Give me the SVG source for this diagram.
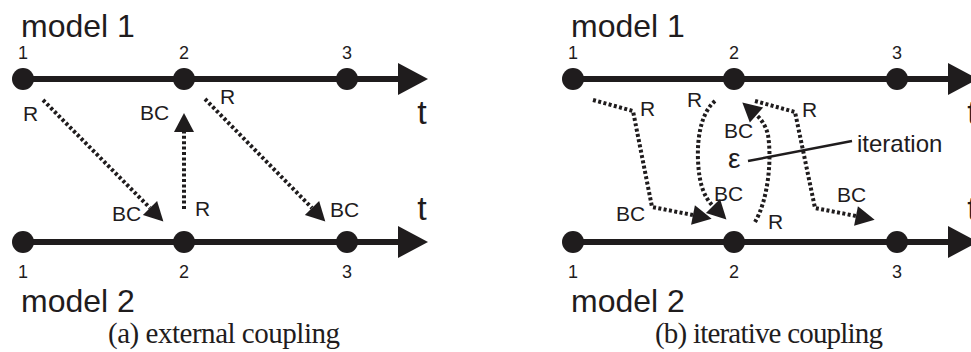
<svg xmlns="http://www.w3.org/2000/svg" width="971" height="352" viewBox="0 0 971 352">
<style>
.axis{stroke:#1f1c1d;stroke-width:6;fill:none}
.pt{fill:#1f1c1d}
.dot{stroke:#1f1c1d;stroke-width:4;stroke-dasharray:3 2.4;fill:none}
.lbl{font-family:"Liberation Sans",Arial,sans-serif;fill:#1f1c1d}
.m{font-size:32px}
.n{font-size:18px}
.s{font-size:21px}
.t{font-size:34px}
.cap{font-family:"Liberation Serif","Times New Roman",serif;font-size:29px;fill:#1f1c1d}
</style>
<defs>
<marker id="ah" markerUnits="userSpaceOnUse" markerWidth="20" markerHeight="22" refX="0" refY="10" orient="auto" overflow="visible">
<path d="M0,0 L19,10 L0,20 z" fill="#1f1c1d"/>
</marker>
<marker id="big" markerUnits="userSpaceOnUse" markerWidth="32" markerHeight="34" refX="0" refY="16" orient="auto" overflow="visible">
<path d="M0,0 L30,16 L0,32 z" fill="#1f1c1d"/>
</marker>
</defs>

<!-- panel (a) -->
<g id="a-model1">
<line class="axis" x1="23" y1="79" x2="398" y2="79" marker-end="url(#big)"/>
<text class="lbl m" x="21" y="37">model 1</text>
<text class="lbl t" x="422" y="124" text-anchor="middle">t</text>
</g>
<g id="a-m1-p1"><circle class="pt" cx="23" cy="79" r="11"/><text class="lbl n" x="23" y="59" text-anchor="middle">1</text></g>
<g id="a-m1-p2"><circle class="pt" cx="184" cy="79" r="11"/><text class="lbl n" x="184" y="59" text-anchor="middle">2</text></g>
<g id="a-m1-p3"><circle class="pt" cx="347" cy="79" r="11"/><text class="lbl n" x="347" y="59" text-anchor="middle">3</text></g>

<g id="a-model2">
<line class="axis" x1="23" y1="242" x2="398" y2="242" marker-end="url(#big)"/>
<text class="lbl m" x="21" y="312">model 2</text>
<text class="lbl t" x="422" y="220" text-anchor="middle">t</text>
</g>
<g id="a-m2-p1"><circle class="pt" cx="23" cy="242" r="11"/><text class="lbl n" x="23" y="278" text-anchor="middle">1</text></g>
<g id="a-m2-p2"><circle class="pt" cx="184" cy="242" r="11"/><text class="lbl n" x="184" y="278" text-anchor="middle">2</text></g>
<g id="a-m2-p3"><circle class="pt" cx="347" cy="242" r="11"/><text class="lbl n" x="347" y="278" text-anchor="middle">3</text></g>

<g id="a-connectors">
<line class="dot" x1="43" y1="100" x2="150" y2="208" marker-end="url(#ah)"/>
<line class="dot" x1="184" y1="209" x2="184" y2="132" marker-end="url(#ah)"/>
<line class="dot" x1="205" y1="99" x2="312" y2="208" marker-end="url(#ah)"/>
</g>
<g id="a-labels">
<text class="lbl s" x="23" y="121">R</text>
<text class="lbl s" x="140" y="120">BC</text>
<text class="lbl s" x="220" y="104">R</text>
<text class="lbl s" x="195" y="216">R</text>
<text class="lbl s" x="112" y="221">BC</text>
<text class="lbl s" x="330" y="217">BC</text>
</g>
<text class="cap" x="108" y="343" textLength="232" lengthAdjust="spacing">(a) external coupling</text>

<!-- panel (b) -->
<g id="b-model1">
<line class="axis" x1="573" y1="79" x2="948" y2="79" marker-end="url(#big)"/>
<text class="lbl m" x="571" y="37">model 1</text>
<text class="lbl t" x="972" y="124" text-anchor="middle">t</text>
</g>
<g id="b-m1-p1"><circle class="pt" cx="573" cy="79" r="11"/><text class="lbl n" x="573" y="59" text-anchor="middle">1</text></g>
<g id="b-m1-p2"><circle class="pt" cx="734" cy="79" r="11"/><text class="lbl n" x="734" y="59" text-anchor="middle">2</text></g>
<g id="b-m1-p3"><circle class="pt" cx="897" cy="79" r="11"/><text class="lbl n" x="897" y="59" text-anchor="middle">3</text></g>

<g id="b-model2">
<line class="axis" x1="573" y1="242" x2="948" y2="242" marker-end="url(#big)"/>
<text class="lbl m" x="571" y="312">model 2</text>
<text class="lbl t" x="972" y="220" text-anchor="middle">t</text>
</g>
<g id="b-m2-p1"><circle class="pt" cx="573" cy="242" r="11"/><text class="lbl n" x="573" y="278" text-anchor="middle">1</text></g>
<g id="b-m2-p2"><circle class="pt" cx="734" cy="242" r="11"/><text class="lbl n" x="734" y="278" text-anchor="middle">2</text></g>
<g id="b-m2-p3"><circle class="pt" cx="897" cy="242" r="11"/><text class="lbl n" x="897" y="278" text-anchor="middle">3</text></g>

<g id="b-connectors">
<path class="dot" d="M593,100 L633,111 L652,207 L693,215" marker-end="url(#ah)"/>
<path class="dot" d="M715,101 C702,112 697,135 698,160 C699,184 704,197 713,206" marker-end="url(#ah)"/>
<path class="dot" d="M755,222 C768,200 772,160 768,135 C766,126 761,119 756.5,115" marker-end="url(#ah)"/>
<path class="dot" d="M755,101 L795,112 L815,208 L856,216" marker-end="url(#ah)"/>
<line x1="748" y1="161" x2="852" y2="141" stroke="#1f1c1d" stroke-width="2.5"/>
</g>
<g id="b-labels">
<text class="lbl s" x="640" y="116">R</text>
<text class="lbl s" x="616" y="221">BC</text>
<text class="lbl s" x="687" y="107">R</text>
<text class="lbl s" x="714" y="201">BC</text>
<text class="lbl s" x="724" y="138">BC</text>
<text class="lbl s" x="768" y="229">R</text>
<text class="lbl s" x="802" y="117">R</text>
<text class="lbl s" x="837" y="202">BC</text>
<text class="lbl" x="728" y="168" font-size="28">ε</text>
<text class="lbl" x="857" y="152" font-size="24">iteration</text>
</g>
<text class="cap" x="655" y="343" textLength="228" lengthAdjust="spacing">(b) iterative coupling</text>
</svg>
